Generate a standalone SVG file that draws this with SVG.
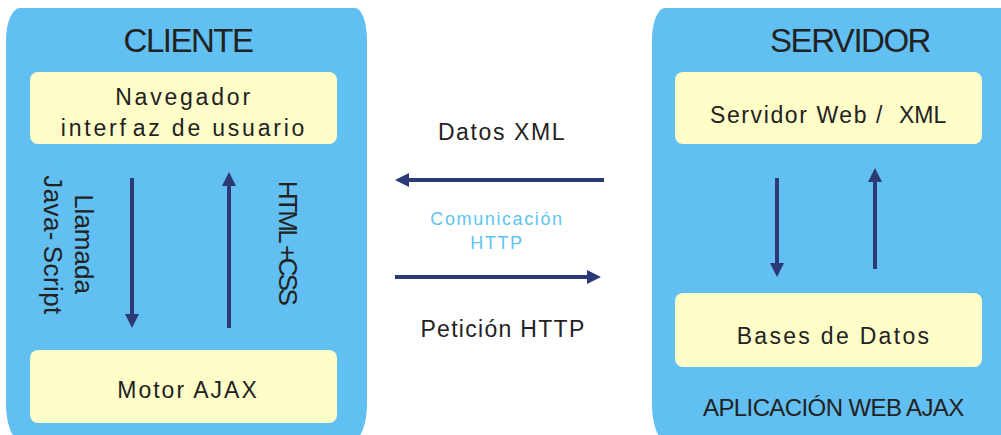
<svg xmlns="http://www.w3.org/2000/svg" width="1001" height="435" viewBox="0 0 1001 435">
  <style>
    text { font-family: "Liberation Sans", Arial, sans-serif; fill: #222; }
    .panel { fill: #61BFF2; }
    .box { fill: #FFFDC8; }
    .title { font-size: 33px; letter-spacing: -1.5px; text-anchor: middle; }
    .label { font-size: 23px; text-anchor: middle; }
    .side { font-size: 26px; text-anchor: middle; }
    .link { stroke: #2B3A74; stroke-width: 4; fill: none; marker-end: url(#head); }
    .http { font-size: 18px; fill: #5EC4F2; letter-spacing: 1.6px; text-anchor: middle; }
  </style>
  <defs>
    <marker id="head" markerUnits="userSpaceOnUse" markerWidth="14" markerHeight="14" refX="2" refY="7" orient="auto">
      <path d="M0,0 L14,7 L0,14 z" fill="#2B3A74"/>
    </marker>
  </defs>

  <!-- client side -->
  <g id="cliente">
    <path class="panel" d="M20,8 H355 A12,32 0 0 1 367,40 V404 A14,36 0 0 1 353,440 H20 A14,36 0 0 1 6,404 V40 A14,32 0 0 1 20,8 z"/>
    <text class="title" x="188" y="52">CLIENTE</text>
  </g>
  <g id="navegador">
    <rect class="box" x="30" y="72" width="307" height="72" rx="8"/>
    <text class="label" x="184" y="105" style="letter-spacing:2.8px">Navegador</text>
    <text class="label" x="184" y="136" style="letter-spacing:2.8px">interf<tspan dx="4">az</tspan> de usuario</text>
  </g>
  <g id="motor-ajax">
    <rect class="box" x="30" y="350" width="307" height="73" rx="8"/>
    <text class="label" x="188" y="398" style="letter-spacing:2px">Motor AJAX</text>
  </g>
  <g id="etiquetas-cliente">
    <text class="side" transform="translate(74.5,244) rotate(90)">Llamada</text>
    <text class="side" transform="translate(43.5,245) rotate(90)" style="letter-spacing:0.4px">Java-<tspan dx="5">Script</tspan></text>
    <text class="side" transform="translate(279,242) rotate(90)" style="letter-spacing:-2.6px">HTML<tspan dx="4">+CSS</tspan></text>
  </g>

  <!-- server side -->
  <g id="servidor">
    <path class="panel" d="M665,8 H1015 V440 H665 A13,36 0 0 1 652,404 V40 A13,32 0 0 1 665,8 z"/>
    <text class="title" x="850" y="52">SERVIDOR</text>
    <text x="703" y="416" style="font-size:24px;letter-spacing:-0.6px">APLICACIÓN WEB AJAX</text>
  </g>
  <g id="servidor-web">
    <rect class="box" x="675" y="72" width="307" height="72" rx="8"/>
    <text x="710" y="123" style="font-size:23px;letter-spacing:1.6px">Servidor Web / <tspan x="899" style="letter-spacing:0">XML</tspan></text>
  </g>
  <g id="bases-datos">
    <rect class="box" x="675" y="293" width="307" height="74" rx="8"/>
    <text class="label" x="834" y="344" style="letter-spacing:2.3px">Bases de Datos</text>
  </g>

  <!-- middle labels -->
  <g id="comunicacion">
    <text class="label" x="502" y="140" style="letter-spacing:1.6px">Datos XML</text>
    <text class="http" x="497" y="225">Comunicación</text>
    <text class="http" x="497" y="249">HTTP</text>
    <text class="label" x="503" y="337" style="letter-spacing:1.3px">Petición HTTP</text>
  </g>

  <!-- connectors -->
  <g id="conectores">
    <line class="link" x1="132" y1="178" x2="132" y2="316"/>
    <line class="link" x1="229" y1="328" x2="229" y2="184"/>
    <line class="link" x1="777" y1="178" x2="777" y2="265"/>
    <line class="link" x1="875" y1="269" x2="875" y2="180"/>
    <line class="link" x1="604" y1="180" x2="407" y2="180"/>
    <line class="link" x1="395" y1="277" x2="589" y2="277"/>
  </g>
</svg>
